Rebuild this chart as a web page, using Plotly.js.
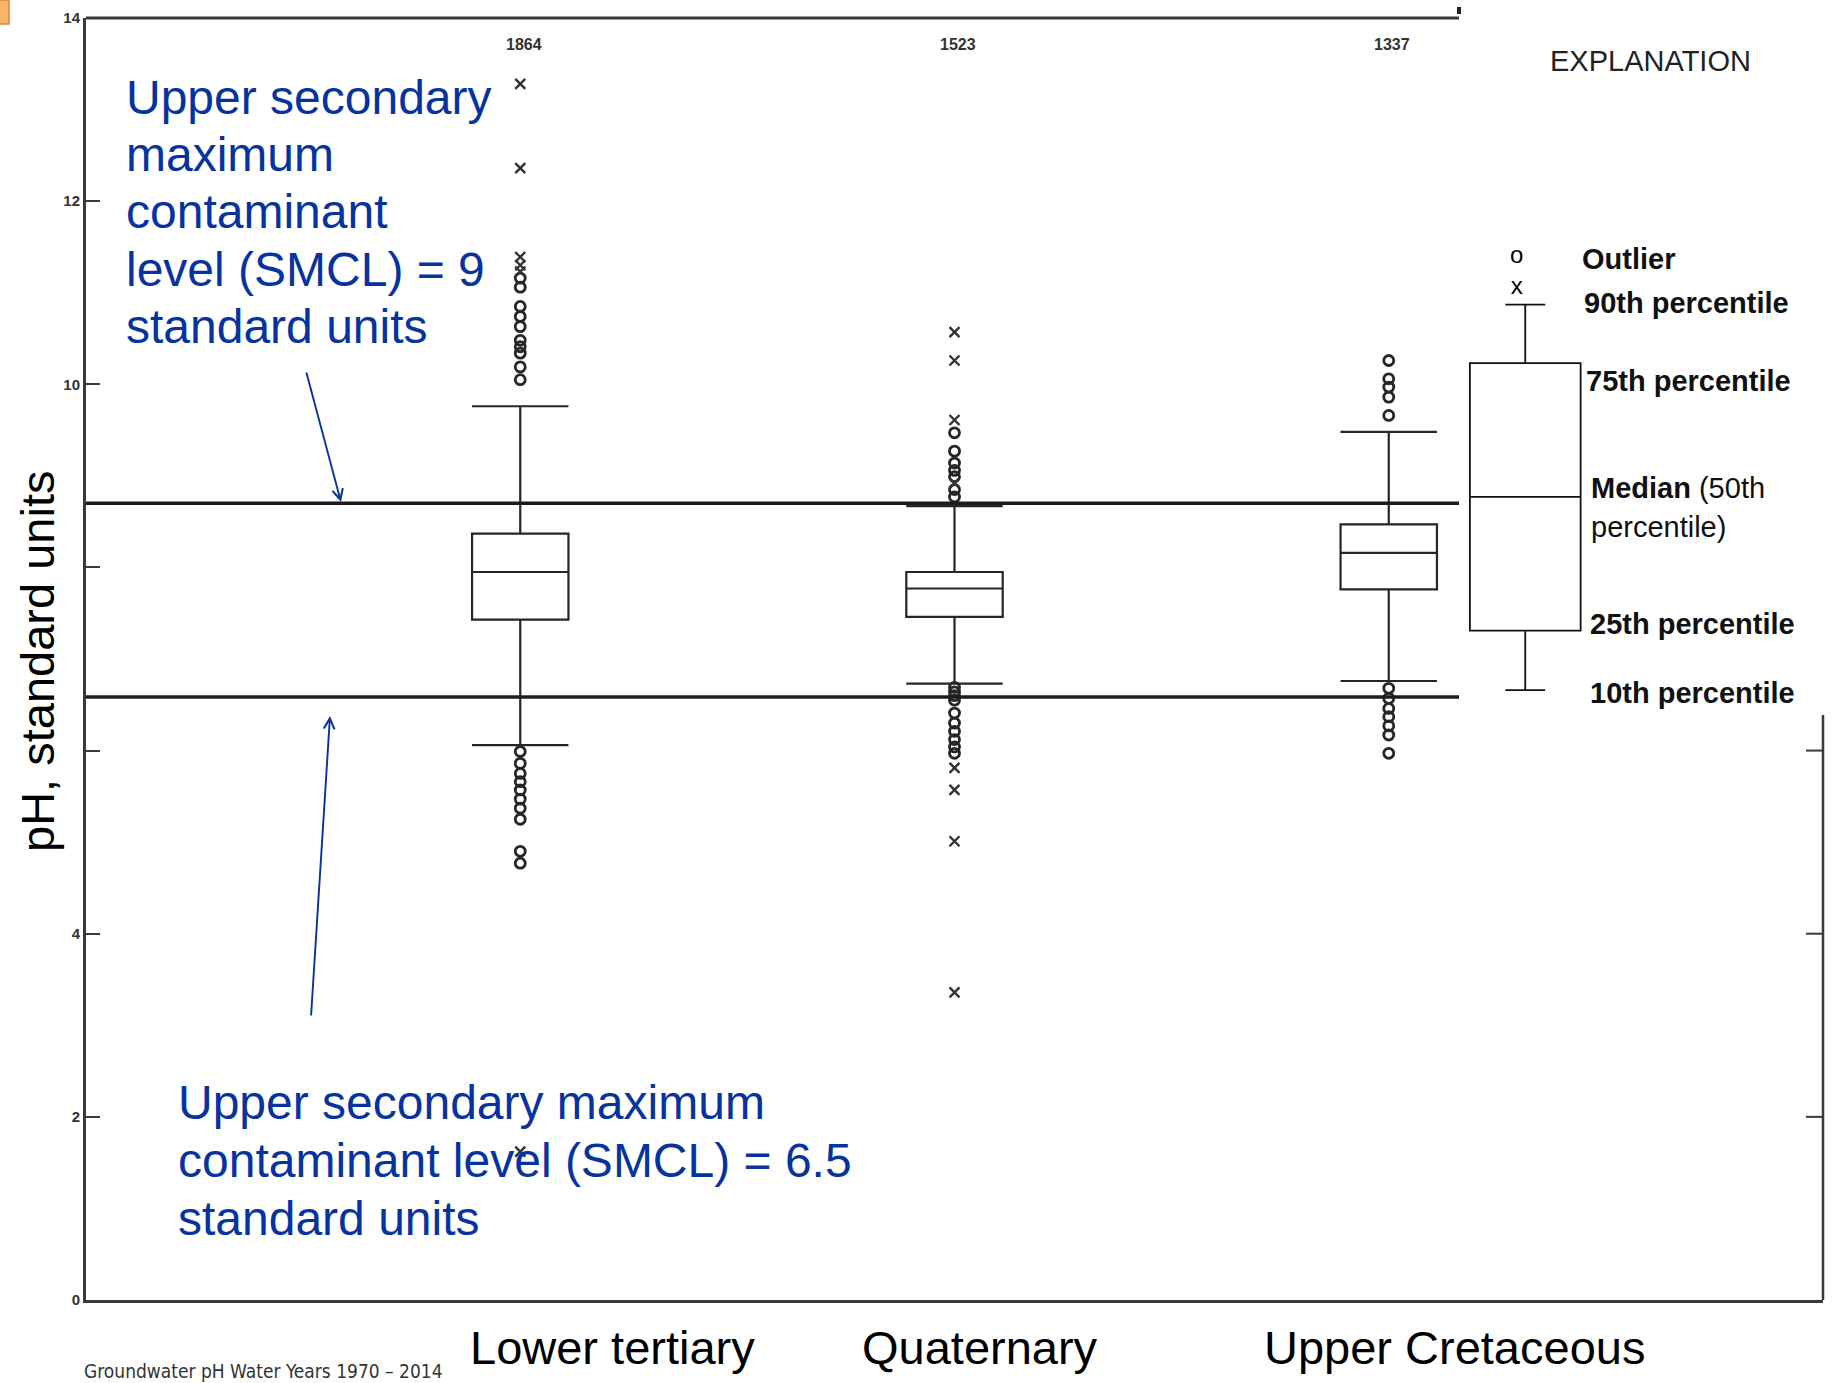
<!DOCTYPE html>
<html>
<head>
<meta charset="utf-8">
<script src="https://cdn.plot.ly/plotly-3.0.1.min.js"></script>
<style>
html, body { margin: 0; padding: 0; background: #ffffff; }
#chart { width: 1837px; height: 1383px; }
</style>
</head>
<body>
<div id="chart"></div>
<script>
// ---------------- DATA ----------------
const categories = ['Lower tertiary', 'Quaternary', 'Upper Cretaceous'];
const sampleCounts = ['1864', '1523', '1337'];
const p10 = [6.06, 6.73, 6.76];
const p25 = [7.43, 7.46, 7.76];
const p50 = [7.95, 7.77, 8.16];
const p75 = [8.37, 7.95, 8.47];
const p90 = [9.76, 8.67, 9.48];
const outlierCircles = [
  [11.16, 11.06, 10.85, 10.74, 10.63, 10.48, 10.41, 10.34, 10.19, 10.05,
   5.99, 5.86, 5.75, 5.66, 5.57, 5.47, 5.37, 5.25, 4.90, 4.77],
  [9.47, 9.27, 9.14, 9.06, 8.99, 8.85, 8.77,
   6.69, 6.64, 6.60, 6.55, 6.41, 6.30, 6.21, 6.12, 6.04, 5.97],
  [10.26, 10.06, 9.97, 9.86, 9.66,
   6.68, 6.57, 6.46, 6.37, 6.27, 6.17, 5.97]
];
const outlierCrosses = [
  [13.28, 12.36, 11.39, 11.30, 11.23, 1.62],
  [10.57, 10.26, 9.61, 8.92, 5.81, 5.57, 5.01, 3.36],
  []
];
const smclLevelsDrawn = [8.70, 6.585];       // lines as drawn in the figure (labelled 9 and 6.5)
const yTickVals = [0, 2, 4, 6, 8, 10, 12, 14];
const yTickText = ['0', '2', '4', '', '', '10', '12', '14'];
const rightTickVals = [2, 4, 6];
// explanation (key) box statistics
const keyP10 = [6.66];
const keyP25 = [7.31];
const keyP50 = [8.77];
const keyP75 = [10.23];
const keyP90 = [10.87];

// ---------------- LAYOUT HELPERS ----------------
const W = 1837, H = 1383, L = 86, R = 14, T = 18, B = 83;
const plotW = W - L - R, plotH = H - T - B;
const px = x => (x - L) / plotW;          // page pixel -> paper x
const py = y => (H - B - y) / plotH;      // page pixel -> paper y
const SANS = 'Liberation Sans, Arial, Helvetica, sans-serif';
const NARROW = 'Liberation Sans Narrow, Arial Narrow, DejaVu Sans Condensed, sans-serif';
const BLUE = '#0633a0';
const INK = '#262626';

const xPos = categories.map((c, i) => i);

const traces = [];
traces.push({
  type: 'box', x: xPos, q1: p25, median: p50, q3: p75,
  lowerfence: p10, upperfence: p90,
  width: 0.222, whiskerwidth: 1, boxpoints: false,
  fillcolor: 'rgba(255,255,255,0)',
  line: { color: INK, width: 2.2 }, hoverinfo: 'skip'
});
categories.forEach((c, i) => {
  traces.push({
    type: 'scatter', mode: 'markers',
    x: outlierCircles[i].map(() => i), y: outlierCircles[i],
    marker: { symbol: 'circle-open', size: 10, color: INK, line: { width: 2.8, color: INK } },
    hoverinfo: 'skip'
  });
  if (outlierCrosses[i].length) {
    traces.push({
      type: 'scatter', mode: 'markers',
      x: outlierCrosses[i].map(() => i), y: outlierCrosses[i],
      marker: { symbol: 'x-thin-open', size: 10, color: '#333', line: { width: 2.4, color: '#333' } },
      hoverinfo: 'skip'
    });
  }
});
// explanation key box
const keyX = (1524 - 519) / 434.25;
traces.push({
  type: 'box', x: [keyX], q1: keyP25, median: keyP50, q3: keyP75,
  lowerfence: keyP10, upperfence: keyP90,
  width: 0.255, whiskerwidth: 0.36, boxpoints: false,
  fillcolor: 'rgba(255,255,255,0)',
  line: { color: '#111', width: 1.8 }, hoverinfo: 'skip'
});

// ---------------- SHAPES ----------------
const FRAME = '#3a3a3a';
const shapes = [];
shapes.push({ type: 'line', xref: 'paper', yref: 'paper', x0: 0, x1: px(1459), y0: 1, y1: 1,
  line: { color: FRAME, width: 3 } });
shapes.push({ type: 'line', xref: 'paper', yref: 'paper', x0: 1, x1: 1, y0: 0, y1: py(715),
  line: { color: FRAME, width: 2.5 } });
rightTickVals.forEach(v => shapes.push({ type: 'line', xref: 'paper', yref: 'y',
  x0: 1, x1: 1 - 17 / plotW, y0: v, y1: v, line: { color: FRAME, width: 2 } }));
smclLevelsDrawn.forEach(v => shapes.push({ type: 'line', xref: 'paper', yref: 'y',
  x0: 0, x1: px(1459), y0: v, y1: v, line: { color: '#1c1c1c', width: 3.5 } }));
// small artifacts at the picture corners
shapes.push({ type: 'rect', xref: 'paper', yref: 'paper', x0: px(-4), x1: px(9), y0: py(0), y1: py(24),
  fillcolor: '#f7b56c', line: { color: '#d8893a', width: 1.5 } });
shapes.push({ type: 'rect', xref: 'paper', yref: 'paper', x0: px(1457), x1: px(1461), y0: py(7), y1: py(14),
  fillcolor: '#222', line: { width: 0 } });

// ---------------- ANNOTATIONS ----------------
const ann = [];
const txt = (text, x, y, size, opts = {}) => Object.assign({
  text: text, xref: 'paper', yref: 'paper', x: px(x), y: py(y),
  xanchor: 'left', yanchor: 'middle', showarrow: false,
  font: { family: SANS, size: size, color: '#000' }
}, opts);

categories.forEach((c, i) => ann.push({
  text: '<b>' + sampleCounts[i] + '</b>', xref: 'x', yref: 'y', x: i + 0.008, y: 13.71,
  showarrow: false, xanchor: 'center', yanchor: 'middle',
  font: { family: SANS, size: 16, color: '#333' }
}));

// category labels
const catLeft = [468, 860, 1262];
categories.forEach((c, i) => ann.push(txt(c, catLeft[i], 1347, 47)));

// y-axis title
ann.push(txt('pH, standard units', 38, 662, 47, { xanchor: 'center', textangle: -90 }));

// footer
ann.push(txt('Groundwater pH Water Years 1970 – 2014', 82, 1371, 19,
  { font: { family: NARROW, size: 19, color: '#333' } }));

// blue SMCL notes
const BLUEFONT = { family: SANS, size: 48, color: BLUE };
const upperLines = ['Upper secondary', 'maximum', 'contaminant', 'level (SMCL) = 9', 'standard units'];
const upperY = [98, 155, 212, 270, 327];
upperLines.forEach((t, k) => ann.push(txt(t, 124, upperY[k], 48, { font: BLUEFONT })));
const lowerLines = ['Upper secondary maximum', 'contaminant level (SMCL) = 6.5', 'standard units'];
const lowerY = [1102, 1160, 1218];
lowerLines.forEach((t, k) => ann.push(txt(t, 176, lowerY[k], 48, { font: BLUEFONT })));

// arrows
ann.push({ text: '', xref: 'paper', yref: 'paper', x: px(341), y: py(502), ax: -35, ay: -131,
  showarrow: true, arrowhead: 5, arrowsize: 1.1, arrowwidth: 1.9, arrowcolor: BLUE, standoff: 0 });
ann.push({ text: '', xref: 'paper', yref: 'paper', x: px(330), y: py(716), ax: -19, ay: 301,
  showarrow: true, arrowhead: 5, arrowsize: 1.1, arrowwidth: 1.9, arrowcolor: BLUE, standoff: 0 });

// explanation key text
ann.push(txt('EXPLANATION', 1548, 61, 29, { font: { family: SANS, size: 29, color: '#222' } }));
ann.push(txt('o<br>x', 1516, 270, 24, { xanchor: 'center', align: 'center' }));
const keyFont = { family: SANS, size: 29, color: '#111' };
ann.push(txt('<b>Outlier</b>', 1580, 259, 29, { font: keyFont }));
ann.push(txt('<b>90th percentile</b>', 1582, 303, 29, { font: keyFont }));
ann.push(txt('<b>75th percentile</b>', 1584, 381, 29, { font: keyFont }));
ann.push(txt('<b>Median</b> (50th', 1589, 488, 29, { font: keyFont }));
ann.push(txt('percentile)', 1589, 527, 29, { font: keyFont }));
ann.push(txt('<b>25th percentile</b>', 1588, 624, 29, { font: keyFont }));
ann.push(txt('<b>10th percentile</b>', 1588, 693, 29, { font: keyFont }));

const layout = {
  width: W, height: H,
  margin: { l: L, r: R, t: T, b: B, pad: 0 },
  paper_bgcolor: '#ffffff', plot_bgcolor: '#ffffff',
  showlegend: false, hovermode: false, boxmode: 'overlay',
  xaxis: {
    range: [-1, 3], showgrid: false, zeroline: false, showticklabels: false, ticks: '',
    showline: true, linecolor: FRAME, linewidth: 3, fixedrange: true
  },
  yaxis: {
    range: [0, 14], tickmode: 'array', tickvals: yTickVals, ticktext: yTickText,
    ticks: 'inside', ticklen: 14, tickwidth: 2, tickcolor: FRAME,
    showline: true, linecolor: FRAME, linewidth: 3, showgrid: false, zeroline: false,
    tickfont: { family: SANS, size: 15, color: '#333', weight: 'bold' }, fixedrange: true
  },
  shapes: shapes,
  annotations: ann
};

Plotly.newPlot('chart', traces, layout, { displayModeBar: false, staticPlot: true });
</script>
</body>
</html>
